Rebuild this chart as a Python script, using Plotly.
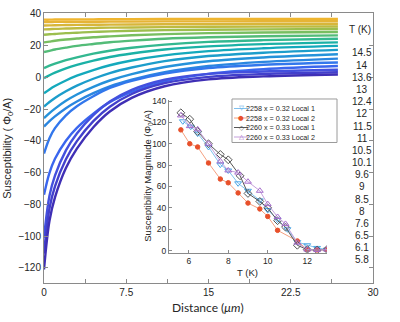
import plotly.graph_objects as go

# ---- main panel: susceptibility profiles vs distance, one curve per temperature ----
distance_um = [0, 0.5, 1, 2, 3, 4.5, 6, 8, 11, 15, 20, 26.8]

temps_K = ["14.5", "14", "13.6", "13", "12.4", "12", "11.5", "11", "10.5",
           "10.1", "9.6", "9", "8.5", "8", "7.6", "6.5", "6.1", "5.8"]

chi_14p5 = [36.3, 36.3, 36.4, 36.4, 36.5, 36.5, 36.6, 36.6, 36.7, 36.7, 36.8, 36.8]
chi_14p0 = [34.8, 34.8, 34.9, 34.9, 35.0, 35.0, 35.1, 35.1, 35.2, 35.2, 35.3, 35.3]
chi_13p6 = [32.6, 32.7, 32.8, 32.9, 33.0, 33.1, 33.2, 33.3, 33.4, 33.5, 33.55, 33.6]
chi_13p0 = [30.2, 30.3, 30.5, 30.7, 30.9, 31.1, 31.3, 31.4, 31.6, 31.8, 31.9, 32.0]
chi_12p4 = [26.8, 27.1, 27.3, 27.8, 28.1, 28.6, 28.9, 29.3, 29.7, 30.0, 30.2, 30.4]
chi_12p0 = [22.0, 22.5, 23.0, 23.8, 24.4, 25.2, 25.8, 26.5, 27.2, 27.8, 28.2, 28.5]
chi_11p5 = [15.9, 16.7, 17.5, 18.7, 19.8, 21.0, 22.1, 23.1, 24.3, 25.2, 25.9, 26.4]
chi_11p0 = [5.8, 7.3, 8.6, 10.8, 12.6, 14.9, 16.7, 18.6, 20.6, 22.3, 23.4, 24.3]
chi_10p5 = [-0.5, 1.3, 2.9, 5.6, 7.8, 10.5, 12.8, 15.0, 17.5, 19.5, 20.9, 22.0]
chi_10p1 = [-10.0, -7.6, -5.5, -2.0, 1.0, 4.6, 7.6, 10.6, 13.8, 16.5, 18.3, 19.8]
chi_9p6 = [-18.4, -15.5, -13.0, -8.8, -5.2, -0.9, 2.7, 6.2, 10.2, 13.4, 15.5, 17.3]
chi_9p0 = [-25.7, -22.5, -19.7, -14.8, -10.8, -6.0, -2.0, 2.0, 6.5, 10.1, 12.5, 14.5]
chi_8p5 = [-31.0, -27.6, -24.6, -19.4, -15.2, -10.0, -5.7, -1.5, 3.2, 7.1, 9.7, 11.8]
chi_8p0 = [-48.0, -38.3, -32.0, -23.9, -18.2, -11.9, -6.7, -2.2, 2.4, 5.9, 7.9, 9.3]
chi_7p6 = [-74.0, -60.2, -51.3, -39.9, -31.8, -22.9, -15.6, -9.1, -2.6, 2.2, 5.1, 7.1]
chi_6p5 = [-101.0, -74.6, -61.9, -46.0, -35.4, -23.8, -15.3, -7.9, -1.5, 2.2, 3.7, 4.8]
chi_6p1 = [-111.0, -82.5, -68.7, -51.6, -40.2, -27.6, -18.5, -10.5, -3.7, 0.3, 2.1, 3.2]
chi_5p8 = [-121.0, -90.3, -75.6, -57.1, -44.9, -31.4, -21.5, -12.9, -5.6, -1.3, 0.6, 1.8]

profiles = [chi_14p5, chi_14p0, chi_13p6, chi_13p0, chi_12p4, chi_12p0, chi_11p5,
            chi_11p0, chi_10p5, chi_10p1, chi_9p6, chi_9p0, chi_8p5, chi_8p0,
            chi_7p6, chi_6p5, chi_6p1, chi_5p8]

# parula-like colours, warm (high T) to dark blue (low T)
profile_colors = ["#EFB52F", "#E6B436", "#D8B63A", "#BDBB41", "#9CBE4E", "#78BE60",
                  "#53BC78", "#33B890", "#1BB1A6", "#14A9BC", "#1C9DCB", "#2592DA",
                  "#2A86E0", "#3277EC", "#3A66EE", "#4350DE", "#4240CC", "#3F2FB5"]

x_tickvals = [0, 7.5, 15, 22.5, 30]
x_ticktext = ["0", "7.5", "15", "22.5", "30"]
y_tickvals = [-120, -100, -80, -60, -40, -20, 0, 20, 40]

# ---- inset: susceptibility magnitude vs temperature ----
T_2258_L1 = [5.7, 6.1, 6.45, 7.0, 7.6, 8.0, 8.5, 9.0, 9.6, 10.0, 10.5, 11.0, 11.5, 12.0, 12.5, 13.0]
mag_2258_L1 = [121, 116, 109.5, 97, 80.5, 75, 63, 56, 47, 38, 29, 20, 8, 5, 2.5, 1]

T_2258_L2 = [5.6, 6.05, 6.45, 7.0, 7.6, 8.0, 8.5, 9.0, 9.6, 10.0, 10.5, 11.5, 12.0, 12.5, 13.0]
mag_2258_L2 = [113, 100, 97, 82, 67, 63.5, 54, 44.5, 39, 32, 19, 9, 1, 0.5, 1]

T_2260_L1 = [5.6, 6.05, 6.45, 7.0, 7.6, 8.0, 8.6, 9.0, 9.6, 10.0, 10.5, 10.9, 11.5, 12.0, 12.5, 13.0]
mag_2260_L1 = [129, 123, 111.5, 100, 90, 85, 70, 53.5, 46, 40, 28, 22, 5, 1, 0.5, 1]

T_2260_L2 = [5.6, 6.05, 6.45, 7.0, 7.6, 8.0, 8.5, 9.0, 9.6, 10.0, 10.5, 10.9, 11.5, 12.0, 12.5, 13.0]
mag_2260_L2 = [126.5, 116.5, 113.5, 100, 83.5, 75, 73, 64.5, 56, 43.5, 31.5, 25, 7.5, 1, 0.5, 1]

inset_names = ["2258 x = 0.32 Local 1", "2258 x = 0.32 Local 2",
               "2260 x = 0.33 Local 1", "2260 x = 0.33 Local 2"]

FONT = "Liberation Sans, Arial, sans-serif"
AXIS_GREY = "#8a8a8a"
TEXT = "#262626"

fig = go.Figure()

for vals, col in zip(profiles, profile_colors):
    fig.add_trace(go.Scatter(
        x=distance_um, y=vals, mode="lines",
        line=dict(color=col, width=2.4, shape="spline"),
        showlegend=False, xaxis="x", yaxis="y"))

# (line colour, marker colour, plotly symbol, key glyph, marker size)
inset_styles = [
    ("#7FC0EE", "#4DA6E6", "triangle-down-open", "\u25bd", 6),
    ("#F4A080", "#E8502A", "circle", "\u25cf", 4.5),
    ("#555555", "#555555", "diamond-open", "\u25c7", 6),
    ("#C4A0DC", "#A56CCB", "triangle-up-open", "\u25b3", 6),
]
inset_data = [(T_2258_L1, mag_2258_L1), (T_2258_L2, mag_2258_L2),
              (T_2260_L1, mag_2260_L1), (T_2260_L2, mag_2260_L2)]

for (tx, ty), (lc, mc, sym, _, ms), name in zip(inset_data, inset_styles, inset_names):
    fig.add_trace(go.Scatter(
        x=tx, y=ty, mode="lines+markers", name=name, showlegend=False,
        line=dict(color=lc, width=1),
        marker=dict(symbol=sym, size=ms, color=mc, line=dict(width=1, color=mc)),
        xaxis="x2", yaxis="y2"))

# compact legend box for the inset
fig.add_shape(type="rect", xref="paper", yref="paper",
              x0=0.5714, x1=0.8906, y0=0.5204, y1=0.6815,
              fillcolor="white", line=dict(color="#9a9a9a", width=1))
key_rows = [0.6463, 0.6111, 0.5759, 0.5407]
for yr, (lc, mc, _, glyph, _), name in zip(key_rows, inset_styles, inset_names):
    fig.add_shape(type="line", xref="paper", yref="paper",
                  x0=0.5775, x1=0.6201, y0=yr, y1=yr,
                  line=dict(color=lc, width=1))
    fig.add_annotation(text=glyph, xref="paper", yref="paper", x=0.5988, y=yr,
                       showarrow=False, xanchor="center", yanchor="middle",
                       font=dict(family="DejaVu Sans", size=6.5, color=mc))
    fig.add_annotation(text=name, xref="paper", yref="paper", x=0.6079, y=yr,
                       showarrow=False, xanchor="left", yanchor="middle",
                       font=dict(family=FONT, size=7.2, color=TEXT))

# temperature key down the right-hand side
fig.add_annotation(text="T (K)", xref="paper", yref="paper", x=0.962, y=0.938,
                   showarrow=False, font=dict(family=FONT, size=10, color=TEXT),
                   xanchor="center", yanchor="middle")
for i, t in enumerate(temps_K):
    fig.add_annotation(text=t, xref="paper", yref="paper",
                       x=0.967, y=0.852 - i * 0.0451, showarrow=False,
                       font=dict(family=FONT, size=10, color=TEXT),
                       xanchor="center", yanchor="middle")

# axis titles
fig.add_annotation(text="Distance (<i>\u03bcm</i>)", xref="paper", yref="paper",
                   x=0.497, y=-0.089, showarrow=False,
                   font=dict(family="Lato, sans-serif", size=12, color=TEXT),
                   xanchor="center", yanchor="middle")
fig.add_annotation(text="Susceptibility ( \u03a6<sub>0</sub>/A)", xref="paper",
                   yref="paper", x=-0.110, y=0.5, textangle=-90, showarrow=False,
                   font=dict(family=FONT, size=11, color=TEXT),
                   xanchor="center", yanchor="middle")
fig.add_annotation(text="Susceptibility Magnitude (\u03a6<sub>0</sub>/A)", xref="paper",
                   yref="paper", x=0.315, y=0.396, textangle=-90, showarrow=False,
                   font=dict(family=FONT, size=9.5, color=TEXT),
                   xanchor="center", yanchor="middle")
fig.add_annotation(text="T (K)", xref="paper", yref="paper", x=0.62, y=0.04,
                   showarrow=False, font=dict(family=FONT, size=9.5, color=TEXT),
                   xanchor="center", yanchor="middle")

fig.update_layout(
    width=400, height=322,
    margin=dict(l=44, r=27, t=13, b=39),
    paper_bgcolor="white", plot_bgcolor="white",
    font=dict(family=FONT, size=10, color=TEXT),
    showlegend=False,
    xaxis=dict(domain=[0, 1], range=[0, 30], tickvals=x_tickvals, ticktext=x_ticktext,
               ticks="inside", ticklen=4, tickcolor=AXIS_GREY, showline=True,
               linecolor=AXIS_GREY, linewidth=1, mirror="ticks", showgrid=False,
               minor=dict(ticks="inside", tick0=0, dtick=3.75, ticklen=4,
                          tickcolor=AXIS_GREY, showgrid=False),
               zeroline=False, automargin=False, tickfont=dict(size=10, color=TEXT)),
    yaxis=dict(domain=[0, 1], range=[-129.5, 40.5], tickvals=y_tickvals,
               ticks="inside", ticklen=4, tickcolor=AXIS_GREY, showline=True,
               linecolor=AXIS_GREY, linewidth=1, mirror="ticks", showgrid=False,
               zeroline=False, automargin=False, tickfont=dict(size=10, color=TEXT)),
    xaxis2=dict(domain=[0.380, 0.860], anchor="y2", range=[5, 13],
                tickvals=[6, 8, 10, 12], ticks="inside", ticklen=3,
                tickcolor=AXIS_GREY, showline=True, linecolor=AXIS_GREY,
                showgrid=False, zeroline=False, automargin=False,
                tickfont=dict(size=8.5, color=TEXT)),
    yaxis2=dict(domain=[0.112, 0.678], anchor="x2", range=[-2, 141],
                tickvals=[0, 20, 40, 60, 80, 100, 120, 140], ticks="inside",
                ticklen=3, tickcolor=AXIS_GREY, showline=True, linecolor=AXIS_GREY,
                showgrid=False, zeroline=False, automargin=False,
                tickfont=dict(size=8.5, color=TEXT)),
)

fig.write_html("out.html")
